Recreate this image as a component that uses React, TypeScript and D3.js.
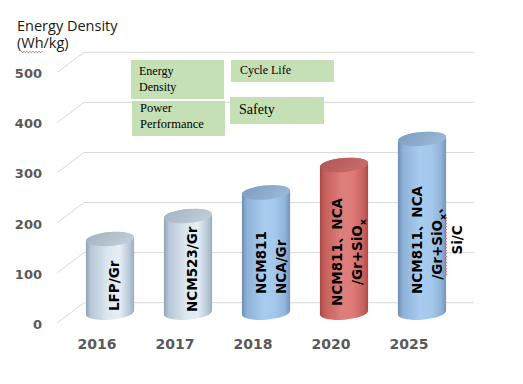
import React from 'react';
import * as d3 from 'd3';

// chart values
const years = ["2016", "2017", "2018", "2020", "2025"];
const energyDensity = [147, 193, 240, 295, 347];
const cellNotes = [
    ["LFP/Gr"],
    ["NCM523/Gr"],
    ["NCM811", "NCA/Gr"],
    ["NCM811、NCA", "/Gr+SiO_x"],
    ["NCM811、NCA", "/Gr+SiO_x、", "Si/C"],
];
const yTicks = [0, 100, 200, 300, 400, 500];
const attributes = [["Energy", "Density"], ["Power", "Performance"], ["Cycle Life"], ["Safety"]];

const width = 523;
const height = 384;
const depthX = 26;   // 3d floor depth, front -> back
const depthY = -20;

const fills: {[k: string]: string[]} = {
    light: ["#8ea2b4", "#b7c7d6", "#dce7f1", "#e7eef6", "#b9c9d8", "#9aadbf"],
    blue: ["#6e8eb2", "#8eb1d7", "#a8ccef", "#a4c8ec", "#8fb2d8", "#7595bb"],
    red: ["#a74644", "#c65f5c", "#de7e7b", "#dc7a77", "#c8625f", "#aa4b49"],
};
const tops: {[k: string]: string[]} = {
    light: ["#a6b5c3", "#c2ced9"],
    blue: ["#7f9fc2", "#9bb9d8"],
    red: ["#b05958", "#c96d6a"],
};
const fillKind = ["light", "light", "blue", "red", "blue"];

// text boxes inside the cylinders (excel text boxes, placed by hand)
const noteLayout = [
    {anchor: "start", y: 311, dx: 9},
    {anchor: "start", y: 312, dx: 9},
    {anchor: "start", y: 294, dx: -0.5},
    {anchor: "middle", y: 252, dx: -2},
    {anchor: "middle", y: 240, dx: 0},
];
const boxLayout = [
    {x: 131, y: 60, w: 93, h: 39, tx: 139, ty: 75, fs: 12},
    {x: 132, y: 101, w: 93, h: 35, tx: 140, ty: 112, fs: 12.5},
    {x: 231, y: 60, w: 103, h: 22, tx: 240, ty: 74, fs: 12},
    {x: 230, y: 97, w: 94, h: 27, tx: 239, ty: 114, fs: 14},
];

const noteFont = "bold 13.5px 'DejaVu Sans', 'Noto Sans CJK SC'";
let ctx: CanvasRenderingContext2D | null = null;
const measure = (s: string, font: string) => {
    if (!ctx) ctx = document.createElement("canvas").getContext("2d");
    if (!ctx) return s.length * 8;
    ctx.font = font;
    return ctx.measureText(s).width;
};

const zigzag = (x0: number, x1: number, y: number) => {
    const pts: string[] = [];
    let up = true;
    for (let x = x0; x <= x1; x += 1.5) {
        pts.push(x.toFixed(1) + "," + (y + (up ? -0.8 : 0.8)).toFixed(1));
        up = !up;
    }
    return pts.join(" ");
};

const cylinderBody = (cx: number, topY: number, baseY: number, rx: number, ry: number, phi: number) => {
    const c = Math.cos(phi), s = Math.sin(phi);
    const deg = phi * 180 / Math.PI;
    const lx = cx - rx * c, rgt = cx + rx * c;
    return `M${lx},${topY - rx * s} L${lx},${baseY - rx * s} A${rx},${ry} ${deg} 0 0 ${rgt},${baseY + rx * s}`
        + ` L${rgt},${topY + rx * s} A${rx},${ry} ${deg} 0 0 ${lx},${topY - rx * s} Z`;
};

const NoteLine = (props: {text: string, x: number, y: number, anchor: string}) => {
    const parts = props.text.split("_");
    // parts[1] starts with the subscript char
    const full = parts.join("");
    const plainW = measure(full, noteFont);
    const start = props.anchor === "middle" ? -plainW / 2 : 0;
    let squiggle = null;
    if (parts.length > 1) {
        const sx = start + measure("/", noteFont);
        const ex = start + measure(parts[0], noteFont) + 6;
        squiggle = <polyline points={zigzag(sx, ex, 4)} fill="none" stroke="#e8413c" strokeWidth={0.8}/>;
    }
    return (
        <g transform={`translate(${props.x},${props.y}) rotate(-90)`}>
            <text textAnchor={props.anchor} style={{font: noteFont}} fill="#000">
                {parts.length > 1 ? [
                    <tspan key="a">{parts[0]}</tspan>,
                    <tspan key="b" dy={3.5} fontSize={9.5}>{parts[1].charAt(0)}</tspan>,
                    <tspan key="c" dy={-3.5}>{parts[1].slice(1)}</tspan>,
                ] : props.text}
            </text>
            {squiggle}
        </g>
    );
};

const App = () => {
    const yBack = d3.scaleLinear().domain([0, 500]).range([302.7, 52.3]);
    const x = d3.scaleBand().domain(years).range([58, 448]);
    const bw = x.bandwidth();
    const rx = bw * 0.31;
    const ry = 7;
    const phi = -5 * Math.PI / 180;
    const [x0, x1] = x.range();
    // cylinders stand at mid depth of the floor
    const cyl = (yr: string) => (x(yr) as number) + bw / 2 + depthX / 2;

    return (
        <div style={{position: "absolute", left: 0, top: 0}}>
            <svg width={width} height={height} style={{display: "block", background: "white"}}>
                <defs>
                    {Object.keys(fills).map(k => (
                        <linearGradient key={k} id={"body-" + k} x1="0" x2="1" y1="0" y2="0">
                            {fills[k].map((c, i) => (
                                <stop key={i} offset={[0, 0.1, 0.45, 0.7, 0.9, 1][i]} stopColor={c}/>
                            ))}
                        </linearGradient>
                    ))}
                    {Object.keys(tops).map(k => (
                        <linearGradient key={k} id={"top-" + k} x1="0" x2="1" y1="0.3" y2="0.7">
                            <stop offset="0" stopColor={tops[k][0]}/>
                            <stop offset="1" stopColor={tops[k][1]}/>
                        </linearGradient>
                    ))}
                </defs>

                {/* back wall gridlines + floor diagonals */}
                <g stroke="#d9d9d9" strokeWidth={1} fill="none">
                    {yTicks.map(t => (
                        <g key={t}>
                            <line x1={x0 + depthX} x2={x1 + depthX} y1={yBack(t)} y2={yBack(t)}/>
                            <line x1={x0 - 0.5} y1={yBack(t) - depthY} x2={x0 + depthX} y2={yBack(t)}/>
                        </g>
                    ))}
                </g>

                {/* y tick labels */}
                <g style={{font: "bold 13px 'DejaVu Sans'"}} fill="#595959" textAnchor="end">
                    {yTicks.map(t => (
                        <text key={t} x={42} y={yBack(t) - depthY + 1.5} dominantBaseline="central">{t}</text>
                    ))}
                </g>

                {/* cylinders */}
                {years.map((yr, i) => {
                    const cx = cyl(yr);
                    const baseY = yBack(0) - depthY / 2;
                    const topY = yBack(energyDensity[i]) - depthY / 2;
                    const k = fillKind[i];
                    return (
                        <g key={yr}>
                            <path d={cylinderBody(cx, topY, baseY, rx, ry, phi)} fill={`url(#body-${k})`}/>
                            <ellipse cx={cx} cy={topY} rx={rx} ry={ry} fill={`url(#top-${k})`}
                                     transform={`rotate(${phi * 180 / Math.PI},${cx},${topY})`}/>
                        </g>
                    );
                })}

                {/* notes inside cylinders */}
                {years.map((yr, i) => {
                    const cx = cyl(yr);
                    const lay = noteLayout[i];
                    return (
                        <g key={yr}>
                            {cellNotes[i].map((line, j) => (
                                <NoteLine key={j} text={line} x={cx + lay.dx + j * 20} y={lay.y} anchor={lay.anchor}/>
                            ))}
                        </g>
                    );
                })}

                {/* x labels */}
                <g style={{font: "bold 14px 'DejaVu Sans'"}} fill="#595959" textAnchor="middle">
                    {years.map(yr => (
                        <text key={yr} x={(x(yr) as number) + bw / 2} y={349}>{yr}</text>
                    ))}
                </g>

                {/* attribute boxes */}
                {attributes.map((lines, i) => {
                    const b = boxLayout[i];
                    return (
                        <g key={i}>
                            <rect x={b.x} y={b.y} width={b.w} height={b.h} fill="#c5e0b4"/>
                            {lines.map((l, j) => (
                                <text key={j} x={b.tx} y={b.ty + j * 16}
                                      style={{font: `${b.fs}px 'Liberation Serif'`}} fill="#000">{l}</text>
                            ))}
                        </g>
                    );
                })}

                {/* axis title */}
                <g style={{font: "14.5px 'Open Sans'"}} fill="#1a1a1a">
                    <text x={17} y={31}>Energy Density</text>
                    <text x={17} y={48}>(Wh/kg)</text>
                </g>
                <polyline points={zigzag(21, 43, 52)} fill="none" stroke="#e8413c" strokeWidth={0.8}/>
            </svg>
        </div>
    );
};

export default App;
